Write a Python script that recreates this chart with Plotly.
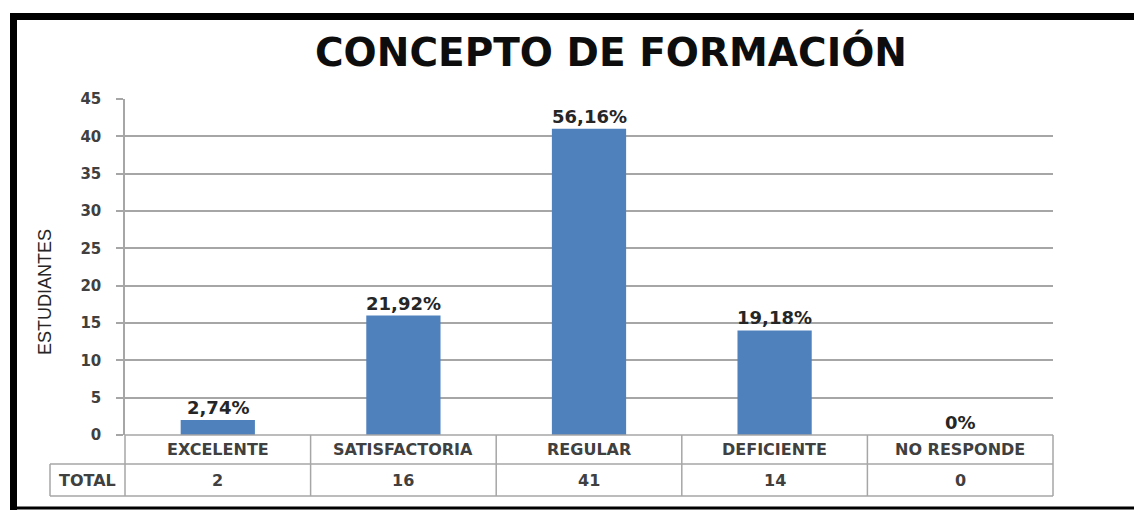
import plotly.graph_objects as go

categories = ["EXCELENTE", "SATISFACTORIA", "REGULAR", "DEFICIENTE", "NO RESPONDE"]
students = [2, 16, 41, 14, 0]
percent_labels = ["2,74%", "21,92%", "56,16%", "19,18%", "0%"]
row_label = "TOTAL"
y_ticks = [0, 5, 10, 15, 20, 25, 30, 35, 40, 45]

W, H = 1134, 510
L, R, T, B = 125, 81, 99, 75
PW, PH = W - L - R, H - T - B


def px_x(px):
    return (px - L) / PW


def px_y(py):
    return (H - B - py) / PH


fig = go.Figure()
xs = list(range(len(categories)))
fig.add_trace(go.Bar(x=xs, y=students, marker=dict(color="#4f81bd", line=dict(width=0)),
                     width=0.4, hoverinfo="skip"))

annotations = []
shapes = []
for i, (v, lab) in enumerate(zip(students, percent_labels)):
    annotations.append(dict(x=i, y=v, xref="x", yref="y", text="<b>%s</b>" % lab, showarrow=False,
                            xanchor="center", yanchor="bottom", yshift=0,
                            font=dict(family="DejaVu Sans", size=18, color="#262626")))

grid = "#a6a6a6"
row1_top, row1_bot, row2_bot = 435, 464, 496
# outer vertical borders of the category table (in paper coords to avoid clipping)
for xp in (0, 1):
    shapes.append(dict(type="line", xref="paper", yref="paper", x0=xp, x1=xp,
                       y0=px_y(row1_top), y1=px_y(row2_bot), line=dict(color=grid, width=1.5)))
# inner separators between categories
for k in range(1, len(categories)):
    shapes.append(dict(type="line", xref="x", yref="paper", x0=k - 0.5, x1=k - 0.5,
                       y0=px_y(row1_top), y1=px_y(row2_bot), line=dict(color=grid, width=1.5)))
shapes.append(dict(type="line", xref="paper", yref="paper", x0=0, x1=1,
                   y0=px_y(row1_top), y1=px_y(row1_top), line=dict(color=grid, width=1.5)))
for py in (row1_bot, row2_bot):
    shapes.append(dict(type="line", xref="paper", yref="paper", x0=px_x(50), x1=1,
                       y0=px_y(py), y1=px_y(py), line=dict(color=grid, width=1.5)))
shapes.append(dict(type="line", xref="paper", yref="paper", x0=px_x(50), x1=px_x(50),
                   y0=px_y(row1_bot), y1=px_y(row2_bot), line=dict(color=grid, width=1.5)))

for i, (c, v) in enumerate(zip(categories, students)):
    annotations.append(dict(x=i, y=px_y((row1_top + row1_bot) / 2), xref="x", yref="paper",
                            text="<b>%s</b>" % c, showarrow=False, xanchor="center", yanchor="middle",
                            font=dict(family="DejaVu Sans", size=16, color="#404040")))
    annotations.append(dict(x=i, y=px_y((row1_bot + row2_bot) / 2), xref="x", yref="paper",
                            text="<b>%s</b>" % v, showarrow=False, xanchor="center", yanchor="middle",
                            font=dict(family="DejaVu Sans", size=16, color="#404040")))
annotations.append(dict(x=px_x(87), y=px_y((row1_bot + row2_bot) / 2), xref="paper", yref="paper",
                        text="<b>" + row_label + "</b>", showarrow=False, xanchor="center", yanchor="middle",
                        font=dict(family="DejaVu Sans", size=16, color="#404040")))

annotations.append(dict(x=px_x(45), y=px_y(292), xref="paper", yref="paper", text="ESTUDIANTES",
                        textangle=-90, showarrow=False, xanchor="center", yanchor="middle",
                        font=dict(family="Liberation Sans Narrow, Liberation Sans", size=18, color="#262626")))

annotations.append(dict(x=px_x(611), y=px_y(52), xref="paper", yref="paper",
                        text="<b>CONCEPTO DE FORMACIÓN</b>", showarrow=False,
                        xanchor="center", yanchor="middle",
                        font=dict(family="DejaVu Sans", size=39, color="#0d0d0d")))

shapes.append(dict(type="line", xref="paper", yref="paper", x0=px_x(13.5), x1=px_x(13.5),
                   y0=px_y(13), y1=px_y(510), line=dict(color="black", width=7)))
shapes.append(dict(type="line", xref="paper", yref="paper", x0=px_x(10), x1=px_x(1134),
                   y0=px_y(16.5), y1=px_y(16.5), line=dict(color="black", width=7)))
shapes.append(dict(type="line", xref="paper", yref="paper", x0=px_x(10), x1=px_x(1134),
                   y0=px_y(508), y1=px_y(508), line=dict(color="black", width=3)))

fig.update_layout(
    width=W, height=H,
    margin=dict(l=L, r=R, t=T, b=B),
    paper_bgcolor="white", plot_bgcolor="white",
    showlegend=False,
    annotations=annotations, shapes=shapes,
    xaxis=dict(range=[-0.5, len(categories) - 0.5], showticklabels=False, showgrid=False,
               zeroline=False, showline=False, ticks="", fixedrange=True),
    yaxis=dict(range=[0, 45], tickvals=y_ticks, showgrid=True, gridcolor=grid, gridwidth=1.5,
               zeroline=False, showline=True, linecolor=grid, linewidth=1.5,
               ticks="outside", ticklen=7, tickcolor=grid, tickwidth=1.5,
               tickfont=dict(family="DejaVu Sans", size=15, color="#404040", weight="bold"),
               ticklabelstandoff=12),
)

fig.write_html("out.html", post_script="document.body.style.margin='0px';",
               config={"displayModeBar": False})
